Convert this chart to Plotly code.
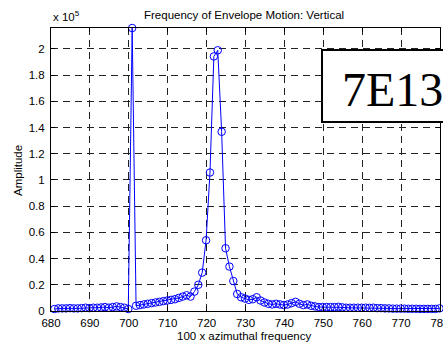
import plotly.graph_objects as go

# Frequency samples (100 x azimuthal frequency), one bin apart
freq_start = 680.87
freq_step = 1.0

# Envelope amplitude per bin, in units of 1e5
amplitude_e5 = [
    0.015, 0.020, 0.020, 0.020, 0.022, 0.020, 0.020, 0.022, 0.025, 0.022,
    0.025, 0.025, 0.027, 0.030, 0.025, 0.030, 0.035, 0.030, 0.025, 0.015,
    2.160, 0.040, 0.045, 0.050, 0.055, 0.060, 0.065, 0.070, 0.075, 0.080,
    0.085, 0.090, 0.100, 0.110, 0.120, 0.110, 0.148, 0.200, 0.293, 0.540,
    1.057, 1.943, 1.990, 1.368, 0.479, 0.339, 0.229, 0.130, 0.105, 0.095,
    0.085, 0.090, 0.105, 0.080, 0.065, 0.055, 0.050, 0.055, 0.050, 0.045,
    0.050, 0.060, 0.070, 0.055, 0.045, 0.050, 0.040, 0.035, 0.030, 0.030,
    0.030, 0.030, 0.030, 0.032, 0.028, 0.025, 0.025, 0.025, 0.025, 0.025,
    0.025, 0.024, 0.025, 0.022, 0.022, 0.020, 0.020, 0.018, 0.018, 0.018,
    0.018, 0.017, 0.017, 0.017, 0.016, 0.016, 0.016, 0.016, 0.016, 0.020,
]
freq = [round(freq_start + freq_step * i, 2) for i in range(len(amplitude_e5))]
amplitude = [v * 1e5 for v in amplitude_e5]

x_ticks = list(range(680, 781, 10))
y_tick_values = [0, 0.2, 0.4, 0.6, 0.8, 1.0, 1.2, 1.4, 1.6, 1.8, 2.0]
y_tick_labels = ["0", "0.2", "0.4", "0.6", "0.8", "1", "1.2", "1.4", "1.6", "1.8", "2"]

W, H = 443, 344
ML, MR, MT, MB = 51, 3, 28, 33
PW, PH = W - ML - MR, H - MT - MB

def px_x(px):
    return (px - ML) / PW

def px_y(py):
    return (H - MB - py) / PH

FONT = "Liberation Sans, Arial, Helvetica, sans-serif"
FS = 11.5

fig = go.Figure()
fig.add_trace(go.Scatter(
    x=freq, y=amplitude, mode="lines+markers",
    line=dict(color="#0000ff", width=1),
    marker=dict(symbol="circle-open", size=7.5, color="#0000ff",
                line=dict(width=1, color="#0000ff")),
    cliponaxis=False, showlegend=False,
))

axis_common = dict(
    showline=True, linecolor="black", linewidth=1, mirror="ticks",
    ticks="inside", ticklen=4, tickcolor="black", tickwidth=1,
    showgrid=True, gridcolor="#222222", gridwidth=1, griddash="7px,5px",
    zeroline=False, tickfont=dict(family=FONT, size=FS, color="black"),
    ticklabeloverflow="allow", automargin=False,
)

fig.update_xaxes(range=[680, 780], tickvals=x_ticks,
                 ticktext=[str(t) for t in x_ticks], ticklabelstandoff=1,
                 **axis_common)
fig.update_yaxes(range=[0, 2.16e5], tickvals=[v * 1e5 for v in y_tick_values],
                 ticktext=y_tick_labels, ticklabelstandoff=3, **axis_common)

fig.update_layout(
    width=W, height=H,
    margin=dict(l=ML, r=MR, t=MT, b=MB, pad=0, autoexpand=False),
    paper_bgcolor="white", plot_bgcolor="white",
    font=dict(family=FONT, size=FS, color="black"),
)

# Title, axis labels and exponent
fig.add_annotation(text="Frequency of Envelope Motion: Vertical",
                   xref="paper", yref="paper", x=px_x(244), y=px_y(15),
                   xanchor="center", yanchor="middle", showarrow=False,
                   font=dict(family=FONT, size=FS, color="black"))
fig.add_annotation(text="100 x azimuthal frequency",
                   xref="paper", yref="paper", x=px_x(244), y=px_y(336),
                   xanchor="center", yanchor="middle", showarrow=False,
                   font=dict(family=FONT, size=FS, color="black"))
fig.add_annotation(text="Amplitude", textangle=-90,
                   xref="paper", yref="paper", x=px_x(18), y=px_y(171),
                   xanchor="center", yanchor="middle", showarrow=False,
                   font=dict(family=FONT, size=FS, color="black"))
fig.add_annotation(text="x 10<sup>5</sup>",
                   xref="paper", yref="paper", x=px_x(51), y=px_y(16),
                   xanchor="left", yanchor="middle", showarrow=False,
                   font=dict(family=FONT, size=FS, color="black"))

# Label box
fig.add_shape(type="rect", xref="paper", yref="paper",
              x0=px_x(322), x1=px_x(470), y0=px_y(122), y1=px_y(50),
              line=dict(color="black", width=2), fillcolor="white", layer="above")
fig.add_annotation(text="7E13", xref="paper", yref="paper",
                   x=px_x(340), y=px_y(89), xanchor="left", yanchor="middle",
                   showarrow=False,
                   font=dict(family="Liberation Serif, Times New Roman, serif",
                             size=48, color="black"))

fig.write_html("out.html")
